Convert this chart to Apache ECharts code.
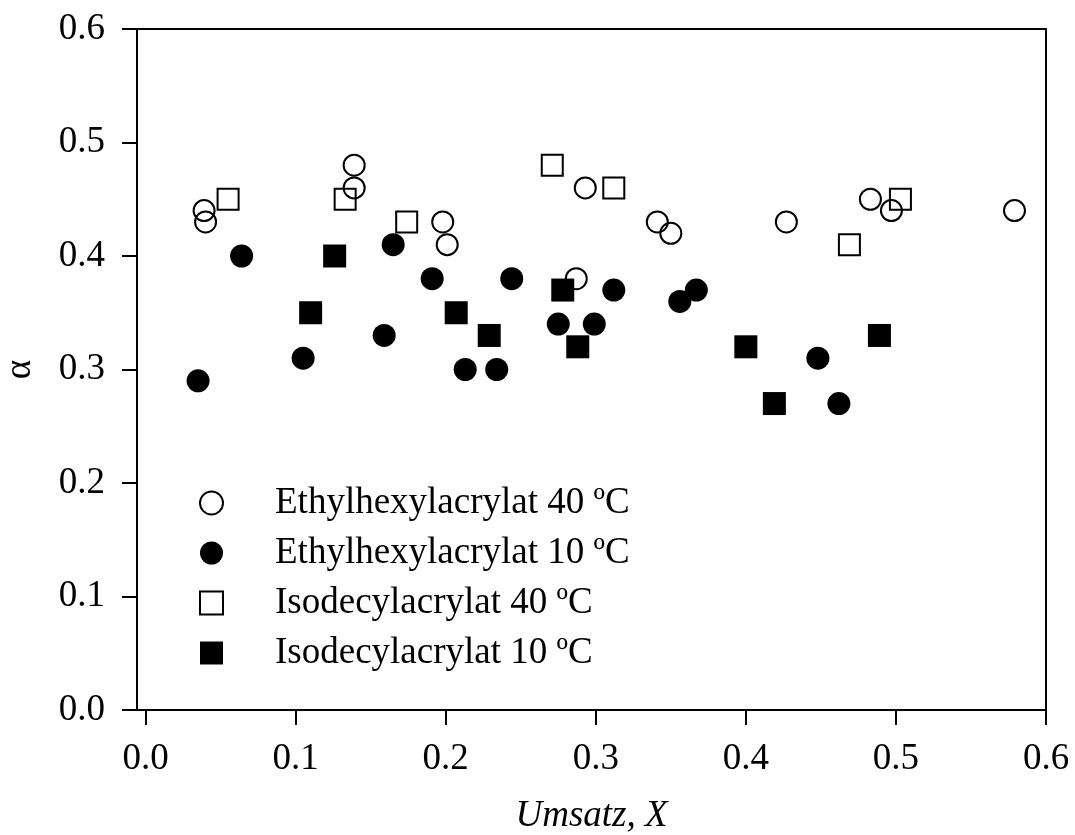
<!DOCTYPE html>
<html>
<head>
<meta charset="utf-8">
<title>Umsatz vs. alpha</title>
<script src="https://cdn.jsdelivr.net/npm/echarts@6/dist/echarts.min.js"></script>
<style>
  html, body { margin: 0; padding: 0; background: #fff; }
  #chart { width: 1075px; height: 835px; }
</style>
</head>
<body>
<div id="chart"></div>
<script>
// Conversion X and alpha for each monomer / temperature
const seriesNames = [
  'Ethylhexylacrylat 40 ºC',
  'Ethylhexylacrylat 10 ºC',
  'Isodecylacrylat 40 ºC',
  'Isodecylacrylat 10 ºC'
];

const eha40X = [0.039, 0.040, 0.139, 0.139, 0.198, 0.201, 0.287, 0.293, 0.341, 0.350, 0.427, 0.483, 0.497, 0.579];
const eha40Y = [0.44, 0.43, 0.48, 0.46, 0.43, 0.41, 0.38, 0.46, 0.43, 0.42, 0.43, 0.45, 0.44, 0.44];

const eha10X = [0.035, 0.064, 0.105, 0.159, 0.165, 0.191, 0.213, 0.234, 0.244, 0.275, 0.299, 0.312, 0.356, 0.367, 0.448, 0.462];
const eha10Y = [0.29, 0.40, 0.31, 0.33, 0.41, 0.38, 0.30, 0.30, 0.38, 0.34, 0.34, 0.37, 0.36, 0.37, 0.31, 0.27];

const ida40X = [0.055, 0.133, 0.174, 0.271, 0.312, 0.469, 0.503];
const ida40Y = [0.45, 0.45, 0.43, 0.48, 0.46, 0.41, 0.45];

const ida10X = [0.110, 0.126, 0.207, 0.229, 0.278, 0.288, 0.400, 0.419, 0.489];
const ida10Y = [0.35, 0.40, 0.35, 0.33, 0.37, 0.32, 0.32, 0.27, 0.33];

const xTicks = [0.0, 0.1, 0.2, 0.3, 0.4, 0.5, 0.6];

const FONT = "'Liberation Serif', 'Times New Roman', serif";
const FS = 37;

function pairs(xs, ys) {
  return xs.map((x, i) => [x, ys[i]]);
}

const openStyle = { color: 'transparent', borderColor: '#000', borderWidth: 2, opacity: 1 };
const fillStyle = { color: '#000', borderColor: '#000', borderWidth: 0, opacity: 1 };

const chart = echarts.init(document.getElementById('chart'), null, { renderer: 'canvas' });

chart.setOption({
  animation: false,
  backgroundColor: '#fff',
  textStyle: { fontFamily: FONT, color: '#000' },
  grid: {
    left: 137, right: 29, top: 29, bottom: 125,
    show: true, borderColor: '#000', borderWidth: 2,
    backgroundColor: 'transparent',
    containLabel: false,
    outerBoundsMode: 'none'
  },
  legend: {
    orient: 'vertical',
    left: 199,
    top: 483,
    padding: 0,
    itemWidth: 23,
    itemHeight: 23,
    itemGap: 10,
    selectedMode: false,
    textStyle: {
      fontFamily: FONT, fontSize: FS, color: '#000', lineHeight: 40,
      padding: [0, 0, 0, 47]
    },
    data: seriesNames
  },
  xAxis: {
    type: 'value',
    min: -0.0057,
    max: 0.6,
    name: 'Umsatz, X',
    nameLocation: 'middle',
    nameGap: 88,
    nameTextStyle: { fontFamily: FONT, fontSize: FS, fontStyle: 'italic', color: '#000' },
    axisLine: { show: true, onZero: false, lineStyle: { color: '#000', width: 2 } },
    axisTick: { show: true, inside: false, length: 15, customValues: xTicks, lineStyle: { color: '#000', width: 2 } },
    axisLabel: {
      show: true, margin: 31, customValues: xTicks,
      fontFamily: FONT, fontSize: FS, color: '#000',
      formatter: v => v.toFixed(1)
    },
    splitLine: { show: false }
  },
  yAxis: {
    type: 'value',
    min: 0,
    max: 0.6,
    interval: 0.1,
    name: 'α',
    nameLocation: 'middle',
    nameGap: 98,
    nameRotate: 90,
    nameTextStyle: { fontFamily: FONT, fontSize: FS, color: '#000' },
    axisLine: { show: true, onZero: false, lineStyle: { color: '#000', width: 2 } },
    axisTick: { show: true, inside: false, length: 15, lineStyle: { color: '#000', width: 2 } },
    axisLabel: {
      show: true, margin: 32,
      fontFamily: FONT, fontSize: FS, color: '#000',
      formatter: v => v.toFixed(1)
    },
    splitLine: { show: false }
  },
  series: [
    {
      name: seriesNames[0], type: 'scatter', symbol: 'circle', symbolSize: 21,
      itemStyle: openStyle, data: pairs(eha40X, eha40Y), z: 2
    },
    {
      name: seriesNames[1], type: 'scatter', symbol: 'circle', symbolSize: 23,
      itemStyle: fillStyle, data: pairs(eha10X, eha10Y), z: 3
    },
    {
      name: seriesNames[2], type: 'scatter', symbol: 'rect', symbolSize: 21,
      itemStyle: openStyle, data: pairs(ida40X, ida40Y), z: 4
    },
    {
      name: seriesNames[3], type: 'scatter', symbol: 'rect', symbolSize: 23,
      itemStyle: fillStyle, data: pairs(ida10X, ida10Y), z: 5
    }
  ]
});
</script>
</body>
</html>
